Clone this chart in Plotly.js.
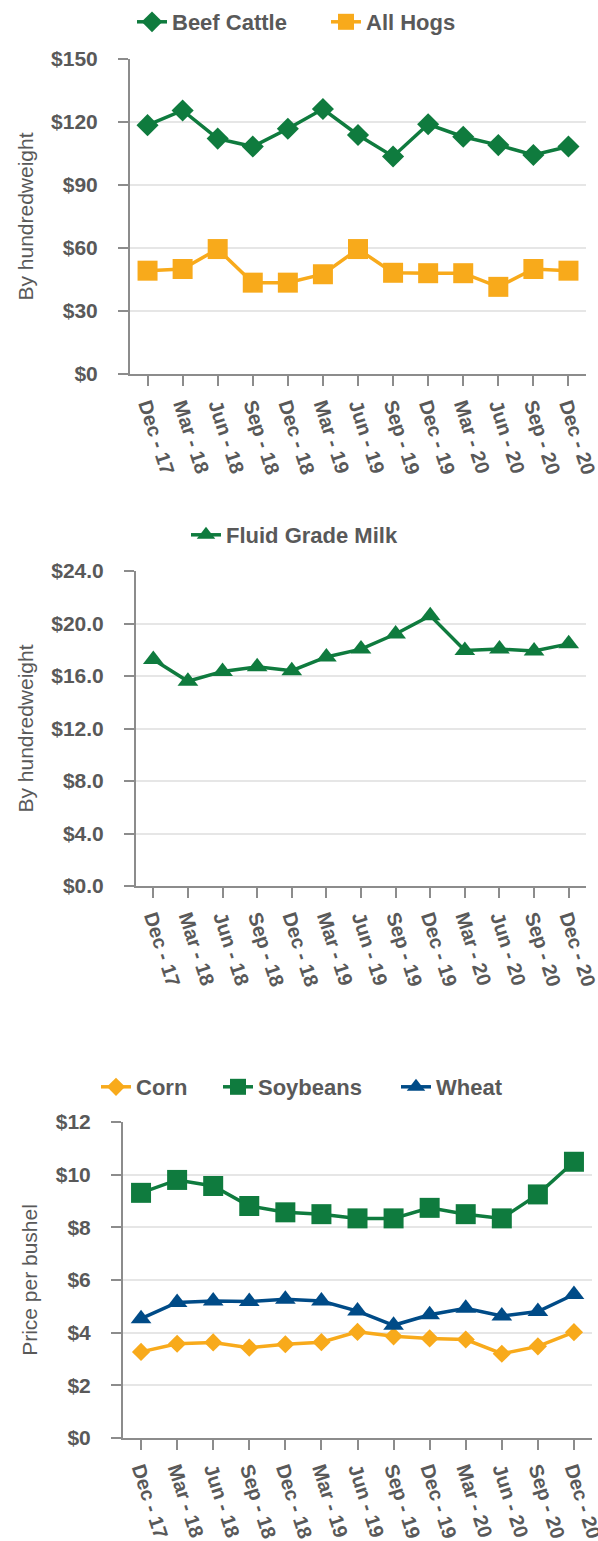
<!DOCTYPE html>
<html>
<head>
<meta charset="utf-8">
<script src="https://cdn.plot.ly/plotly-3.0.1.min.js"></script>
<style>
  html, body { margin: 0; padding: 0; background: #ffffff; }
  .chart { position: absolute; left: 0; width: 598px; }
</style>
</head>
<body>
<div id="c1" class="chart" style="top:0px;height:500px;"></div>
<div id="c2" class="chart" style="top:500px;height:530px;"></div>
<div id="c3" class="chart" style="top:1030px;height:511px;"></div>
<script>
// ---- Data ----
const categories = ['Dec - 17','Mar - 18','Jun - 18','Sep - 18','Dec - 18','Mar - 19','Jun - 19','Sep - 19','Dec - 19','Mar - 20','Jun - 20','Sep - 20','Dec - 20'];
const beefCattle = [118.5,125.5,112.1,108.3,116.8,126.2,113.8,103.6,118.9,113.0,109.0,104.3,108.3];
const allHogs    = [49.2,50.0,59.5,43.5,43.5,47.5,59.5,48.2,48.0,48.0,41.5,50.0,49.2];
const fluidMilk  = [17.25,15.6,16.35,16.7,16.4,17.45,18.05,19.2,20.6,17.95,18.05,17.9,18.45];
const corn       = [3.27,3.58,3.63,3.43,3.56,3.64,4.03,3.86,3.78,3.74,3.20,3.48,4.02];
const soybeans   = [9.31,9.80,9.57,8.81,8.57,8.50,8.34,8.34,8.74,8.50,8.34,9.25,10.49];
const wheat      = [4.53,5.15,5.20,5.18,5.27,5.20,4.82,4.28,4.68,4.93,4.63,4.80,5.45];

// ---- Styles ----
const GREEN = '#0f7b3e', ORANGE = '#f8aa1b', BLUE = '#004b87';
const TXT = '#595959', AXIS = '#8c8c8c', GRID = '#e6e6e6';
const FAM = 'Liberation Sans, Arial, sans-serif';

function xaxis() {
  return {
    type: 'category', range: [-0.5, categories.length - 0.5],
    showline: true, linecolor: AXIS, linewidth: 2,
    ticks: 'outside', ticklen: 10, tickwidth: 2, tickcolor: AXIS,
    tickangle: 72, showgrid: false, zeroline: false,
    tickfont: {family: FAM, size: 20, color: TXT, weight: 'bold'},
    fixedrange: true
  };
}
function yaxis(range, dtick, fmt, title) {
  return {
    range: range, dtick: dtick, tick0: 0, tickprefix: '$', tickformat: fmt,
    showline: true, linecolor: AXIS, linewidth: 2,
    ticks: 'outside', ticklen: 10, tickwidth: 2, tickcolor: AXIS,
    ticklabelstandoff: 16,
    showgrid: true, gridcolor: GRID, gridwidth: 2, zeroline: false,
    tickfont: {family: FAM, size: 21, color: TXT, weight: 'bold'},
    title: {text: title, font: {family: FAM, size: 21, color: TXT}, standoff: 12},
    fixedrange: true
  };
}
function legend(px, py, h) {
  return {
    orientation: 'h', xref: 'container', yref: 'container',
    x: px / 598, xanchor: 'left', y: 1 - py / h, yanchor: 'middle',
    font: {family: FAM, size: 22, color: TXT, weight: 'bold'},
    bgcolor: 'rgba(0,0,0,0)', borderwidth: 0, visible: true
  };
}
function trace(name, vals, color, symbol, size, leg) {
  return {
    type: 'scatter', mode: 'lines+markers', name: name, legend: leg, showlegend: true,
    x: categories, y: vals, cliponaxis: false,
    line: {color: color, width: 3.5},
    marker: {color: color, symbol: symbol, size: size}
  };
}
const cfg = {staticPlot: true, displayModeBar: false};

Plotly.newPlot('c1', [
  trace('Beef Cattle', beefCattle, GREEN, 'diamond', 17, 'legend'),
  trace('All Hogs', allHogs, ORANGE, 'square', 20, 'legend2')
], {
  width: 598, height: 500, showlegend: true,
  margin: {l: 130, r: 12, t: 59, b: 126},
  paper_bgcolor: '#fff', plot_bgcolor: '#fff',
  xaxis: xaxis(), yaxis: yaxis([0,150], 30, '', 'By hundredweight'),
  legend: legend(132, 22, 500), legend2: legend(326, 22, 500)
}, cfg);

Plotly.newPlot('c2', [
  trace('Fluid Grade Milk', fluidMilk, GREEN, 'triangle-up', 18, 'legend')
], {
  width: 598, height: 530, showlegend: true,
  margin: {l: 136, r: 12, t: 71, b: 144},
  paper_bgcolor: '#fff', plot_bgcolor: '#fff',
  xaxis: xaxis(), yaxis: yaxis([0,24], 4, '.1f', 'By hundredweight'),
  legend: legend(186, 35, 530)
}, cfg);

Plotly.newPlot('c3', [
  trace('Corn', corn, ORANGE, 'diamond', 14, 'legend'),
  trace('Soybeans', soybeans, GREEN, 'square', 20, 'legend2'),
  trace('Wheat', wheat, BLUE, 'triangle-up', 18, 'legend3')
], {
  width: 598, height: 511, showlegend: true,
  margin: {l: 123, r: 6, t: 92, b: 103},
  paper_bgcolor: '#fff', plot_bgcolor: '#fff',
  xaxis: xaxis(), yaxis: yaxis([0,12], 2, '', 'Price per bushel'),
  legend: legend(96, 57, 511), legend2: legend(218, 57, 511), legend3: legend(396, 57, 511)
}, cfg);
</script>
</body>
</html>
